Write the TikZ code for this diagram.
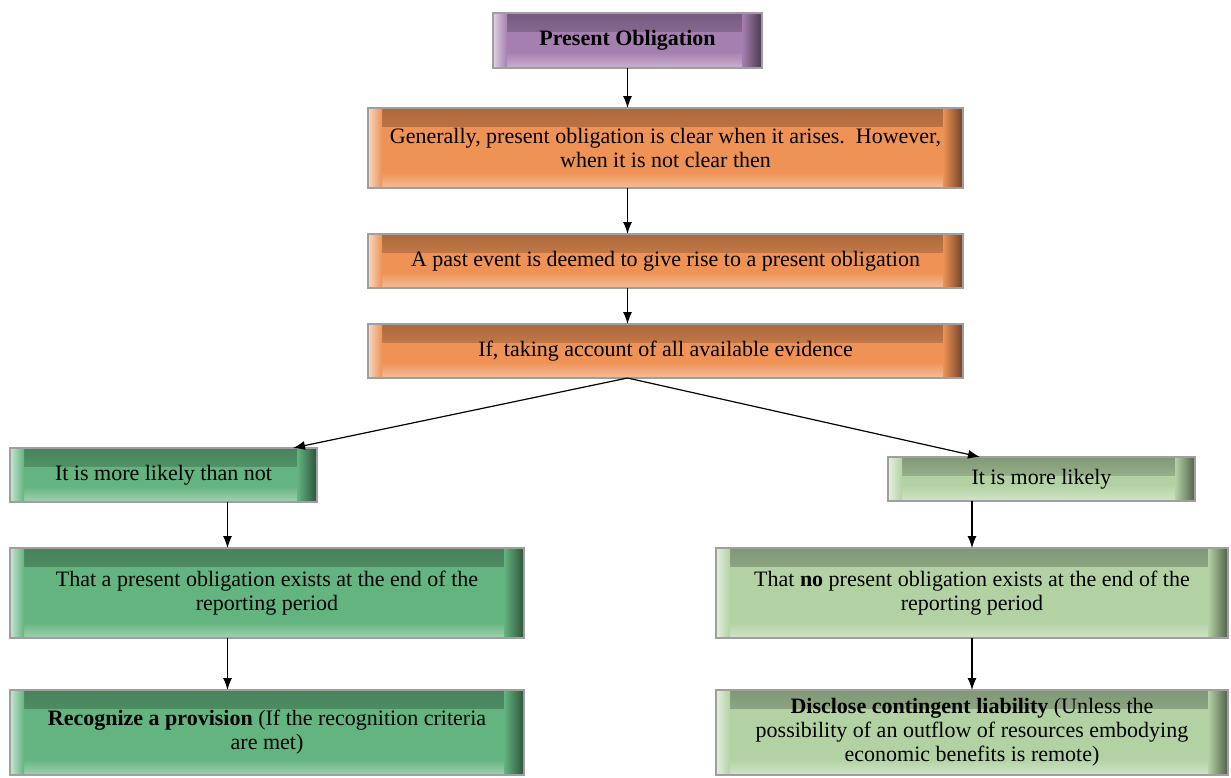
\documentclass[tikz,border=0pt]{standalone}
\usepackage{fontspec}
\setmainfont{Liberation Serif}
\usepackage{tikz}
\usetikzlibrary{positioning,arrows.meta,calc}
\definecolor{purp}{HTML}{A57FB0}
\definecolor{orng}{HTML}{EE9256}
\definecolor{grn}{HTML}{63B47F}
\definecolor{lgrn}{HTML}{B3D2A4}
\begin{document}
\begin{tikzpicture}[
    x=0.5pt, y=-0.5pt,
    box/.style={draw=gray!75, line width=0.7pt, fill=#1, outer sep=0pt, align=center,
      font=\fontsize{11}{12}\selectfont, inner sep=2pt,
      path picture={
        \shade[top color=#1!72!black, bottom color=#1] (path picture bounding box.north west) rectangle ([yshift=-9pt]path picture bounding box.north east);
        \shade[top color=#1, bottom color=#1!60!white] ([yshift=8pt]path picture bounding box.south west) rectangle (path picture bounding box.south east);
        \shade[left color=#1!35!white, right color=#1] (path picture bounding box.south west) rectangle ([xshift=7pt]path picture bounding box.north west);
        \shade[left color=#1, right color=#1!45!black] ([xshift=-10pt]path picture bounding box.south east) rectangle (path picture bounding box.north east);
      }},
    arr/.style={-{Latex[length=6pt,width=4.5pt]}, line width=0.6pt}
  ]
    \useasboundingbox (0,0) rectangle (1231,777);

    % top chain
    \node[box=purp, minimum width=134.5pt, minimum height=27.5pt, font=\fontsize{11}{12}\selectfont\bfseries] (po) at (627.5,40.5) {Present Obligation};
    \node[box=orng, minimum width=297.5pt, minimum height=40pt] (gen) at (665.5,148) {Generally, present obligation is clear when it arises.\ \ However,\\when it is not clear then};
    \node[box=orng, minimum width=297.5pt, minimum height=27pt] (past) at (665.5,261) {A past event is deemed to give rise to a present obligation};
    \node[box=orng, minimum width=297.5pt, minimum height=27pt] (evid) at (665.5,351) {If, taking account of all available evidence};

    % left branch
    \node[box=grn, minimum width=153.5pt, minimum height=27pt] (more) at (163.5,475) {It is more likely than not};
    \node[box=grn, minimum width=257pt, minimum height=45pt] (exist) at (267,593) {That a present obligation exists at the end of the\\reporting period};
    \node[box=grn, minimum width=257pt, minimum height=42.5pt] (prov) at (267,732.5) {\textbf{Recognize a provision} (If the recognition criteria\\are met)};

    % right branch
    \node[box=lgrn, minimum width=153.5pt, minimum height=22pt] (less) at (1041.5,479) {It is more likely};
    \node[box=lgrn, minimum width=256pt, minimum height=45pt] (noex) at (972,593) {That \textbf{no} present obligation exists at the end of the\\reporting period};
    \node[box=lgrn, minimum width=256pt, minimum height=42.5pt] (disc) at (972,732.5) {\textbf{Disclose contingent liability} (Unless the\\possibility of an outflow of resources embodying\\economic benefits is remote)};

    % connectors
    \draw[arr] (po) -- (gen.north -| po);
    \draw[arr] (gen.south -| po) -- (past.north -| po);
    \draw[arr] (past.south -| po) -- (evid.north -| po);
    \draw[arr] (evid.south -| po) -- ([xshift=-12pt]more.north east);
    \draw[arr] (evid.south -| po) -- ([xshift=46pt]less.north west);

    \coordinate (lx) at ([xshift=32pt]more.south);
    \draw[arr] (lx) -- (lx |- exist.north);
    \draw[arr] (exist.south -| lx) -- (prov.north -| lx);
    \draw[arr] (less.south -| noex) -- (noex.north);
    \draw[arr] (noex.south) -- (disc.north);
\end{tikzpicture}
\end{document}
